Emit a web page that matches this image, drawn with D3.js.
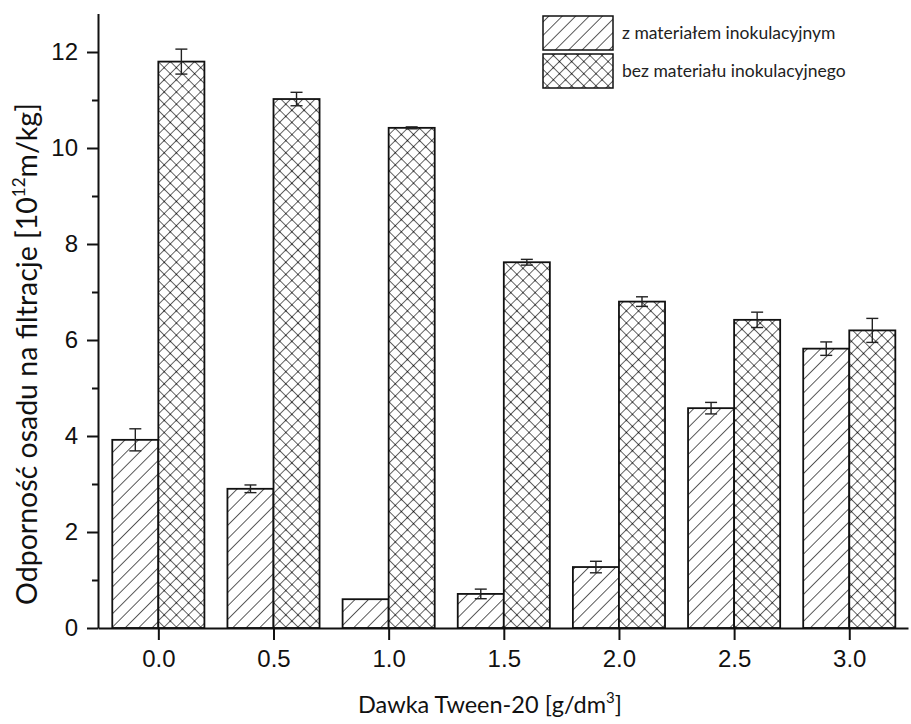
<!DOCTYPE html>
<html>
<head>
<meta charset="utf-8">
<script src="https://cdn.jsdelivr.net/npm/d3@7"></script>
<style>
	body { margin: 0; background: #fff; }
	svg { display: block; }
</style>
</head>
<body>
<div id="chart"></div>
<script>
// Data
var doses = [0.0, 0.5, 1.0, 1.5, 2.0, 2.5, 3.0];
var withInoc = [3.92, 2.9, 0.6, 0.71, 1.27, 4.58, 5.82];
var withInocErr = [0.23, 0.08, 0.0, 0.1, 0.12, 0.12, 0.14];
var withoutInoc = [11.8, 11.02, 10.42, 7.62, 6.8, 6.42, 6.2];
var withoutInocErr = [0.26, 0.14, 0.02, 0.06, 0.1, 0.16, 0.25];
var yTicks = [0, 2, 4, 6, 8, 10, 12];
var yMinor = [1, 3, 5, 7, 9, 11];
var legendLabels = ["z materiałem inokulacyjnym", "bez materiału inokulacyjnego"];

var W = 911, H = 724;

var svg = d3.select("#chart")
	.append("svg")
	.attr("width", W)
	.attr("height", H);

// Scales
var x = d3.scaleLinear()
	.domain([-0.262, 3.255])
	.range([98, 908]);

var y = d3.scaleLinear()
	.domain([0, 12.8])
	.range([628, 13.6]);

var barW = x(0.2) - x(0);

// Fill patterns
var defs = svg.append("defs");

var hatch = defs.append("pattern")
	.attr("id", "hatch")
	.attr("patternUnits", "userSpaceOnUse")
	.attr("width", 9.5)
	.attr("height", 9.5)
	.attr("patternTransform", "rotate(45)");
hatch.append("rect").attr("width", 9.5).attr("height", 9.5).attr("fill", "#fff");
hatch.append("line")
	.attr("x1", 0).attr("y1", 0).attr("x2", 0).attr("y2", 9.5)
	.attr("stroke", "#333").attr("stroke-width", 1.6);

var cross = defs.append("pattern")
	.attr("id", "cross")
	.attr("patternUnits", "userSpaceOnUse")
	.attr("width", 8.6)
	.attr("height", 8.6)
	.attr("patternTransform", "rotate(45)");
cross.append("rect").attr("width", 8.6).attr("height", 8.6).attr("fill", "#fff");
cross.append("line")
	.attr("x1", 0).attr("y1", 0).attr("x2", 0).attr("y2", 8.6)
	.attr("stroke", "#333").attr("stroke-width", 1.5);
cross.append("line")
	.attr("x1", 0).attr("y1", 0).attr("x2", 8.6).attr("y2", 0)
	.attr("stroke", "#333").attr("stroke-width", 1.5);
cross.append("rect")
	.attr("x", -1.3).attr("y", -1.3).attr("width", 2.6).attr("height", 2.6)
	.attr("fill", "#111");

// Bars
var rows = doses.map(function (d, i) {
	return { dose: d, a: withInoc[i], ae: withInocErr[i], b: withoutInoc[i], be: withoutInocErr[i] };
});

var g = svg.append("g");

g.selectAll(".barA")
	.data(rows)
	.enter()
	.append("rect")
	.attr("class", "barA")
	.attr("x", function (d) { return x(d.dose) - barW; })
	.attr("y", function (d) { return y(d.a); })
	.attr("width", barW)
	.attr("height", function (d) { return y(0) - y(d.a); })
	.attr("fill", "url(#hatch)")
	.attr("stroke", "#111")
	.attr("stroke-width", 1.8);

g.selectAll(".barB")
	.data(rows)
	.enter()
	.append("rect")
	.attr("class", "barB")
	.attr("x", function (d) { return x(d.dose); })
	.attr("y", function (d) { return y(d.b); })
	.attr("width", barW)
	.attr("height", function (d) { return y(0) - y(d.b); })
	.attr("fill", "url(#cross)")
	.attr("stroke", "#111")
	.attr("stroke-width", 1.8);

// Error bars
function errBars(key, errKey, offset) {
	var eg = g.selectAll(".err" + key)
		.data(rows.filter(function (d) { return d[errKey] > 0; }))
		.enter()
		.append("g")
		.attr("class", "err" + key)
		.attr("stroke", "#222")
		.attr("stroke-width", 1.4);
	var cx = function (d) { return x(d.dose) + offset * barW; };
	eg.append("line")
		.attr("x1", cx).attr("x2", cx)
		.attr("y1", function (d) { return y(d[key] - d[errKey]); })
		.attr("y2", function (d) { return y(d[key] + d[errKey]); });
	[1, -1].forEach(function (s) {
		eg.append("line")
			.attr("x1", function (d) { return cx(d) - 6; })
			.attr("x2", function (d) { return cx(d) + 6; })
			.attr("y1", function (d) { return y(d[key] + s * d[errKey]); })
			.attr("y2", function (d) { return y(d[key] + s * d[errKey]); });
	});
}
errBars("a", "ae", -0.5);
errBars("b", "be", 0.5);

// Axes
svg.append("g")
	.attr("transform", "translate(" + x.range()[0] + ",0)")
	.call(d3.axisLeft(y).tickValues(yTicks).tickSize(11).tickPadding(9).tickSizeOuter(0));
svg.append("g")
	.attr("transform", "translate(" + x.range()[0] + ",0)")
	.call(d3.axisLeft(y).tickValues(yMinor).tickSize(6).tickFormat("").tickSizeOuter(0))
	.select(".domain").remove();

svg.append("g")
	.attr("transform", "translate(0," + y(0) + ")")
	.call(d3.axisBottom(x).tickValues(doses).tickFormat(d3.format(".1f")).tickSize(12).tickPadding(10).tickSizeOuter(0));

svg.selectAll(".domain").attr("stroke", "#111").attr("stroke-width", 2);
svg.selectAll(".tick line").attr("stroke", "#111").attr("stroke-width", 2);
svg.selectAll(".tick text")
	.attr("font-family", "'Liberation Sans', Arial, sans-serif")
	.attr("font-size", 24)
	.attr("fill", "#111");

// Axis titles
svg.append("text")
	.attr("x", 490)
	.attr("y", 713)
	.attr("text-anchor", "middle")
	.attr("font-family", "Lato, 'Open Sans', sans-serif")
	.attr("font-size", 23.5)
	.attr("fill", "#111")
	.call(function (t) {
		t.append("tspan").text("Dawka Tween-20 [g/dm");
		t.append("tspan").attr("dy", -10).attr("font-size", 15).text("3");
		t.append("tspan").attr("dy", 10).text("]");
	});

svg.append("text")
	.attr("transform", "translate(37,354) rotate(-90)")
	.attr("text-anchor", "middle")
	.attr("font-family", "Lato, 'Open Sans', sans-serif")
	.attr("font-size", 28.5)
	.attr("fill", "#111")
	.call(function (t) {
		t.append("tspan").text("Odporność osadu na filtracje [10");
		t.append("tspan").attr("dy", -12).attr("font-size", 17).text("12");
		t.append("tspan").attr("dy", 12).text("m/kg]");
	});

// Legend
var legend = svg.append("g");
var fills = ["url(#hatch)", "url(#cross)"];
legendLabels.forEach(function (lab, i) {
	var ly = 16 + i * 38;
	legend.append("rect")
		.attr("x", 543).attr("y", ly)
		.attr("width", 70).attr("height", 34)
		.attr("fill", fills[i])
		.attr("stroke", "#111")
		.attr("stroke-width", 1.5);
	legend.append("text")
		.attr("x", 622).attr("y", ly + 23)
		.attr("font-family", "Lato, 'Open Sans', sans-serif")
		.attr("font-size", 17.5)
		.attr("fill", "#222")
		.text(lab);
});
</script>
</body>
</html>
